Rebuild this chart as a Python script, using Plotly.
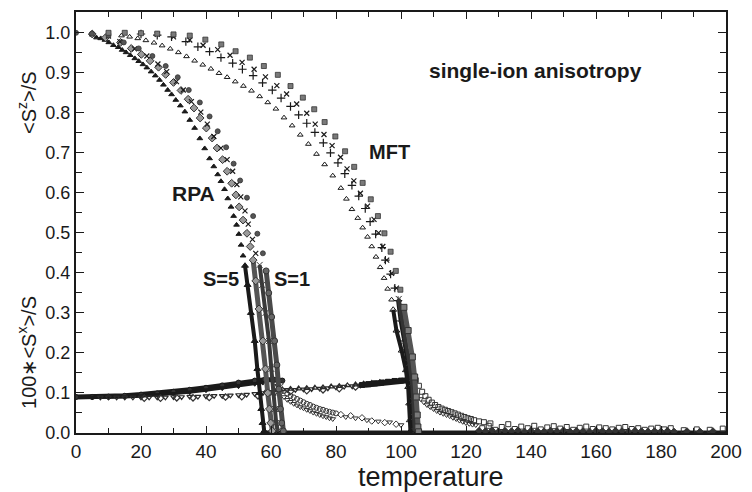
import plotly.graph_objects as go

# ---------------- data ----------------
# <S^z>/S, RPA branch
rpa_tri_T = [5, 6.3, 7.6, 8.9, 10.1, 11.5, 13.0, 14.2, 15.4, 16.7, 18.1, 19.3, 20.6, 21.8, 23.1, 24.4, 25.7, 26.9,
             28.2, 29.4, 30.7, 32.1, 33.5, 35.0, 36.5, 38.1, 39.6, 41.1, 42.4, 43.6, 44.6, 45.7, 46.7, 47.7, 48.5,
             49.4, 50.1, 50.8, 51.4]
rpa_tri_m = [0.995, 0.988, 0.986, 0.982, 0.976, 0.969, 0.964, 0.957, 0.951, 0.944, 0.936, 0.929, 0.921, 0.913, 0.903,
             0.893, 0.882, 0.870, 0.857, 0.846, 0.832, 0.818, 0.803, 0.782, 0.762, 0.736, 0.711, 0.686, 0.666, 0.646,
             0.629, 0.609, 0.586, 0.565, 0.542, 0.520, 0.497, 0.470, 0.443]
rpa_dia_T = [5, 9.1, 13.7, 17.0, 20.1, 22.8, 25.4, 27.6, 30.0, 32.3, 34.5, 36.3, 38.2, 40.1, 41.9, 43.4, 45.1, 46.5,
             47.9, 49.2, 50.2, 51.4, 52.6, 53.6]
rpa_dia_m = [0.997, 0.988, 0.976, 0.961, 0.946, 0.930, 0.914, 0.896, 0.876, 0.856, 0.834, 0.812, 0.787, 0.762, 0.737,
             0.712, 0.683, 0.654, 0.624, 0.595, 0.565, 0.532, 0.499, 0.466]
rpa_x_T = [10, 13.5, 18.0, 21.8, 25.2, 27.9, 30.9, 33.0, 35.5, 38.4, 40.4, 42.4, 44.6, 46.5, 48.2, 49.5, 50.7, 52.0,
           53.0, 54.3, 55.3]
rpa_x_m = [0.992, 0.978, 0.960, 0.942, 0.922, 0.903, 0.878, 0.857, 0.828, 0.802, 0.772, 0.741, 0.712, 0.683, 0.654,
           0.621, 0.590, 0.555, 0.522, 0.484, 0.449]
rpa_cir_T = [0, 4.9, 10, 14.7, 19.3, 23.5, 27.6, 31.3, 34.7, 38.1, 41.1, 43.6, 46.2, 48.5, 50.5, 52.6, 54.5, 55.8, 57.5]
rpa_cir_m = [1.0, 0.998, 0.993, 0.976, 0.961, 0.942, 0.917, 0.889, 0.857, 0.826, 0.791, 0.754, 0.714, 0.673, 0.631,
             0.588, 0.542, 0.498, 0.449]

# dense sampling near the RPA transition temperatures
rpa_tri_Tc_T = [52.0, 52.8, 53.8, 55.0, 55.8, 56.5, 57.0, 57.4, 57.9]
rpa_tri_Tc_m = [0.418, 0.370, 0.300, 0.230, 0.160, 0.100, 0.060, 0.025, 0.005]
rpa_dia_Tc_T = [54.5, 55.3, 56.3, 57.5, 58.3, 59.0, 59.5, 59.9, 60.4]
rpa_dia_Tc_m = [0.432, 0.380, 0.310, 0.230, 0.160, 0.100, 0.060, 0.025, 0.005]
rpa_x_Tc_T = [56.5, 57.3, 58.3, 59.4, 60.1, 60.7, 61.2, 61.6, 62.1]
rpa_x_Tc_m = [0.420, 0.370, 0.300, 0.230, 0.160, 0.100, 0.060, 0.025, 0.005]
rpa_cir_Tc_T = [58.5, 59.3, 60.2, 61.1, 61.8, 62.4, 62.9, 63.3, 63.8]
rpa_cir_Tc_m = [0.405, 0.350, 0.290, 0.230, 0.170, 0.110, 0.060, 0.025, 0.005]

# <S^z>/S, MFT branch
mft_tri_T = [14, 16.5, 19, 21.5, 24, 26.5, 29, 31.5, 34, 36.5, 39, 41.5, 44, 46.5, 49, 51.5, 54, 56.5, 59, 61.5,
             64, 66.5, 69, 71.5, 74, 76.5, 79, 81.5, 83.2, 84.9, 86.7, 88.2, 89.7, 91.0, 92.3, 93.6, 94.8, 95.9, 97.1]
mft_tri_m = [0.993, 0.990, 0.986, 0.981, 0.975, 0.968, 0.960, 0.951, 0.941, 0.930, 0.920, 0.910, 0.899, 0.889, 0.878,
             0.867, 0.855, 0.841, 0.826, 0.810, 0.788, 0.768, 0.745, 0.722, 0.697, 0.671, 0.643, 0.612, 0.585, 0.559,
             0.537, 0.513, 0.490, 0.466, 0.440, 0.414, 0.387, 0.360, 0.333]
mft_plus_T = [20, 25, 29.4, 33.8, 37.5, 41.1, 44.6, 48.2, 51.2, 54.5, 57.4, 60.4, 63.1, 66.0, 68.5, 71.0, 73.5, 76.1,
              78.3, 80.6, 82.7, 84.9, 87.0, 89.0, 90.5, 92.2, 94.1, 95.2, 96.8, 98.1]
mft_plus_m = [0.997, 0.994, 0.990, 0.978, 0.965, 0.953, 0.938, 0.924, 0.909, 0.893, 0.875, 0.857, 0.837, 0.816, 0.795,
              0.774, 0.751, 0.725, 0.700, 0.675, 0.648, 0.619, 0.592, 0.561, 0.528, 0.497, 0.463, 0.432, 0.397, 0.362]
mft_x_T = [25, 30, 35, 39.1, 43.6, 47.4, 51.1, 54.8, 58.3, 61.8, 64.8, 67.9, 71.0, 73.6, 76.3, 78.8, 81.4, 83.4, 85.5,
           87.5, 89.7, 91.7, 93.1, 94.4, 95.6, 97.1, 98.6]
mft_x_m = [0.996, 0.990, 0.982, 0.969, 0.958, 0.944, 0.926, 0.909, 0.890, 0.868, 0.847, 0.822, 0.799, 0.772, 0.746,
           0.718, 0.689, 0.660, 0.630, 0.599, 0.567, 0.534, 0.500, 0.466, 0.432, 0.399, 0.362]
mft_sq_T = [10, 15, 20, 25, 30, 35, 39.8, 44.7, 49.1, 53.5, 57.8, 62.1, 66.0, 69.8, 73.3, 76.5, 79.8, 82.8, 85.6, 88.2,
            90.7, 92.9, 94.9, 96.8, 98.4, 99.8]
mft_sq_m = [1.0, 1.0, 0.999, 0.998, 0.996, 0.993, 0.983, 0.971, 0.954, 0.938, 0.917, 0.895, 0.867, 0.838, 0.809, 0.777,
            0.741, 0.704, 0.665, 0.625, 0.584, 0.542, 0.499, 0.453, 0.405, 0.358]

# dense sampling near the MFT transition temperatures
mft_tri_Tc_T = [97.6, 98.6, 100.2, 101.5, 102.2, 102.5, 102.7, 102.9]
mft_tri_Tc_m = [0.308, 0.256, 0.206, 0.157, 0.115, 0.074, 0.032, 0.005]
mft_plus_Tc_T = [99.1, 99.9, 101.0, 102.2, 103.0, 103.4, 103.6, 103.8]
mft_plus_Tc_m = [0.331, 0.280, 0.230, 0.175, 0.125, 0.080, 0.040, 0.005]
mft_x_Tc_T = [99.3, 100.2, 101.4, 102.6, 103.4, 103.8, 104.0, 104.2]
mft_x_Tc_m = [0.335, 0.285, 0.230, 0.175, 0.125, 0.080, 0.040, 0.005]
mft_sq_Tc_T = [100.9, 102.2, 103.5, 104.2, 104.7, 105.0, 105.2, 105.4]
mft_sq_Tc_m = [0.314, 0.256, 0.190, 0.140, 0.090, 0.045, 0.015, 0.003]

# zero magnetisation above the transitions
zero_T = [58, 70, 80, 90, 100, 110, 120, 130, 140, 150, 160, 170, 180, 190, 200]
zero_m = [0.0, 0.0, 0.0, 0.0, 0.0, 0.0, 0.0, 0.0, 0.0, 0.0, 0.0, 0.0, 0.0, 0.0, 0.0]

# 100*<S^x>/S, RPA branch
rpa_sx1_T = [0, 5, 10, 15, 20, 25, 30, 35, 40, 45, 50, 55, 58, 61, 63.5]
rpa_sx1_v = [0.090, 0.090, 0.091, 0.093, 0.096, 0.099, 0.103, 0.108, 0.113, 0.119, 0.126, 0.131, 0.133, 0.133, 0.131]
rpa_sx5_T = [5, 10, 15, 20, 25, 30, 35, 40, 45, 50, 55, 57.5]
rpa_sx5_v = [0.089, 0.089, 0.090, 0.092, 0.095, 0.098, 0.102, 0.107, 0.112, 0.117, 0.123, 0.126]
rpa_dec_a_T = [63, 64, 65, 66, 67, 68, 69, 70, 71, 72, 73, 74, 75, 76, 77, 78, 79, 80]
rpa_dec_a_v = [0.125, 0.105, 0.098, 0.093, 0.089, 0.085, 0.081, 0.077, 0.073, 0.070, 0.066, 0.063, 0.060, 0.058,
               0.055, 0.053, 0.051, 0.049]
rpa_dec_b_T = [62, 63, 64, 65, 66, 67, 68, 69, 70, 71, 72, 73, 74, 75, 76, 77, 78, 79]
rpa_dec_b_v = [0.118, 0.100, 0.090, 0.083, 0.078, 0.073, 0.069, 0.065, 0.062, 0.058, 0.055, 0.051, 0.048, 0.045,
               0.042, 0.040, 0.037, 0.035]
rpa_tail_a_T = [81.5, 84.5, 88, 91, 95, 98.5]
rpa_tail_a_v = [0.046, 0.043, 0.038, 0.030, 0.026, 0.022]
rpa_tail_b_T = [83, 86, 89.5, 93, 96.5, 100]
rpa_tail_b_v = [0.040, 0.037, 0.032, 0.029, 0.027, 0.020]

# 100*<S^x>/S, MFT branch
mft_sx_a_T = [7.5, 10, 12.5, 15, 17.5, 20, 22.5, 25, 27.5, 30, 32.5, 35, 37.5, 40, 42.5, 45, 47.5, 50, 52.5, 55,
              57.5, 60, 62.5, 65, 67.5, 70, 72.5, 75, 77.5, 80, 82.5, 85, 87.5]
mft_sx_a_v = [0.089, 0.089, 0.089, 0.089, 0.089, 0.089, 0.089, 0.089, 0.089, 0.090, 0.090, 0.091, 0.091, 0.092, 0.093,
              0.093, 0.094, 0.095, 0.096, 0.098, 0.100, 0.103, 0.106, 0.108, 0.108, 0.109, 0.110, 0.111, 0.112, 0.114,
              0.116, 0.117, 0.119]
mft_sx_b_T = [21, 26, 31, 36, 41, 46, 51, 56, 61, 66, 71, 76, 81, 86]
mft_sx_b_v = [0.087, 0.087, 0.088, 0.088, 0.089, 0.090, 0.091, 0.093, 0.101, 0.104, 0.106, 0.108, 0.111, 0.115]
mft_sx_c_T = [58.5, 61, 63.5, 66, 68.5, 71, 73.5, 76, 78.5, 81, 83.5, 86, 88.5, 91, 93.5]
mft_sx_c_v = [0.104, 0.107, 0.109, 0.110, 0.111, 0.112, 0.113, 0.114, 0.116, 0.117, 0.119, 0.121, 0.123, 0.125, 0.127]
mft_sx_Tc_T = [88, 90, 92, 94, 96, 98, 100, 102, 103.5, 104.5]
mft_sx_Tc_v = [0.120, 0.122, 0.124, 0.126, 0.128, 0.130, 0.131, 0.132, 0.133, 0.132]
mft_dec_a_T = [105.5, 106.5, 107.5, 108.5, 109.5, 110.5, 111.5, 112.5, 113.5, 114.5, 115.5, 116.5, 117.5, 118.5,
               119.5, 120.5, 121.5, 122.5, 124, 125.5, 127.5]
mft_dec_a_v = [0.118, 0.103, 0.092, 0.083, 0.076, 0.070, 0.065, 0.061, 0.058, 0.055, 0.052, 0.049, 0.046, 0.043,
               0.040, 0.037, 0.035, 0.032, 0.029, 0.027, 0.024]
mft_dec_b_T = [106, 107, 108, 109, 110, 111, 112, 113, 114, 115, 116, 117, 118, 119, 120, 121, 122, 123]
mft_dec_b_v = [0.085, 0.077, 0.070, 0.065, 0.060, 0.055, 0.051, 0.048, 0.045, 0.042, 0.038, 0.035, 0.031, 0.028,
               0.025, 0.023, 0.021, 0.020]
noise_a_T = [125, 127, 129, 131, 133, 135, 137, 139, 141, 143, 145, 147, 149, 151, 153, 155, 157, 159, 161, 163, 165,
             167, 169, 171, 173, 175, 177, 179, 181, 183, 187, 191, 195, 199]
noise_a_v = [0.012, 0.018, 0.008, 0.015, 0.022, 0.010, 0.016, 0.012, 0.018, 0.009, 0.014, 0.017, 0.011, 0.015, 0.008,
             0.013, 0.016, 0.010, 0.014, 0.012, 0.009, 0.013, 0.015, 0.010, 0.012, 0.008, 0.011, 0.013, 0.009, 0.012,
             0.007, 0.009, 0.008, 0.011]
noise_b_T = [124, 126, 128, 130, 132, 134, 136, 138, 140, 142, 144, 146, 148, 150, 152, 154, 156, 158, 160, 162, 164,
             166, 168, 170, 172, 174, 176, 178, 180, 182, 184, 188, 192, 196]
noise_b_v = [0.006, 0.005, 0.007, 0.004, 0.006, 0.005, 0.007, 0.004, 0.006, 0.005, 0.004, 0.006, 0.005, 0.007, 0.004,
             0.006, 0.005, 0.004, 0.006, 0.005, 0.004, 0.006, 0.005, 0.004, 0.006, 0.005, 0.004, 0.005, 0.004, 0.006,
             0.004, 0.005, 0.004, 0.005]

# text
x_title = "temperature"
y_title_top = "&lt;S<sup>z</sup>&gt;/S"
y_title_bottom = "100∗&lt;S<sup>x</sup>&gt;/S"
x_ticks = [0, 20, 40, 60, 80, 100, 120, 140, 160, 180, 200]
y_ticks = [0.0, 0.1, 0.2, 0.3, 0.4, 0.5, 0.6, 0.7, 0.8, 0.9, 1.0]

# ---------------- figure ----------------
FONT = "Liberation Sans, Arial, Helvetica, sans-serif"
INK = "#1a1a1a"
fig = go.Figure()


def pts(T, v, symbol, size, color, lcolor=None, lwidth=1.0):
    fig.add_trace(go.Scatter(
        x=T, y=v, mode="markers", showlegend=False, hoverinfo="skip",
        marker=dict(symbol=symbol, size=size, color=color,
                    line=dict(color=lcolor if lcolor else color, width=lwidth))))


def dense(T, v, color, width, symbol, size, mcolor, mline=None):
    fig.add_trace(go.Scatter(
        x=T, y=v, mode="lines+markers", showlegend=False, hoverinfo="skip",
        line=dict(color=color, width=width),
        marker=dict(symbol=symbol, size=size, color=mcolor,
                    line=dict(color=mline if mline else color, width=1))))


# zero line above Tc
fig.add_trace(go.Scatter(x=zero_T, y=zero_m, mode="lines", showlegend=False, hoverinfo="skip",
                         line=dict(color=INK, width=5)))

# S^x branches
dense(rpa_sx1_T, rpa_sx1_v, INK, 5, "circle", 5, "#333333")
dense(rpa_sx5_T, rpa_sx5_v, INK, 3, "triangle-down", 5, INK)
pts(mft_sx_a_T, mft_sx_a_v, "triangle-down-open", 5, "#2a2a2a", None, 1.2)
pts(mft_sx_b_T, mft_sx_b_v, "diamond-open", 5, "#333333", None, 1.2)
pts(mft_sx_c_T, mft_sx_c_v, "triangle-up-open", 5, "#2a2a2a", None, 1.2)
dense(mft_sx_Tc_T, mft_sx_Tc_v, INK, 6, "square", 5, INK)
pts(rpa_dec_a_T, rpa_dec_a_v, "circle-open", 5, "#333333")
pts(rpa_dec_b_T, rpa_dec_b_v, "triangle-down-open", 5, "#333333")
pts(rpa_tail_a_T, rpa_tail_a_v, "diamond-open", 5, "#333333")
pts(rpa_tail_b_T, rpa_tail_b_v, "triangle-down-open", 5, "#333333")
pts(mft_dec_a_T, mft_dec_a_v, "square-open", 5, "#333333")
pts(mft_dec_b_T, mft_dec_b_v, "triangle-down-open", 5, "#333333")
pts(noise_a_T, noise_a_v, "square-open", 5, "#333333")
pts(noise_b_T, noise_b_v, "diamond", 5, "#333333")

# S^z near Tc (dense)
dense(rpa_tri_Tc_T, rpa_tri_Tc_m, INK, 4, "triangle-up", 6, INK)
dense(rpa_dia_Tc_T, rpa_dia_Tc_m, "#555555", 5, "diamond", 6, "#9a9a9a", "#333333")
dense(rpa_x_Tc_T, rpa_x_Tc_m, "#3a3a3a", 4, "x-thin", 6, INK)
dense(rpa_cir_Tc_T, rpa_cir_Tc_m, "#4a4a4a", 5, "circle", 6, "#666666", "#333333")
dense(mft_tri_Tc_T, mft_tri_Tc_m, INK, 4, "triangle-up-open", 6, INK)
dense(mft_plus_Tc_T, mft_plus_Tc_m, INK, 4, "cross-thin", 6, INK)
dense(mft_x_Tc_T, mft_x_Tc_m, "#333333", 4, "x-thin", 6, INK)
dense(mft_sq_Tc_T, mft_sq_Tc_m, "#555555", 5, "square", 6, "#7a7a7a", "#333333")

# S^z sparse points
pts(rpa_tri_T, rpa_tri_m, "triangle-up", 5, INK)
pts(rpa_dia_T, rpa_dia_m, "diamond", 6, "#9a9a9a", "#333333", 1)
pts(rpa_x_T, rpa_x_m, "x-thin", 5, INK, INK, 1.2)
pts(rpa_cir_T, rpa_cir_m, "circle", 5, "#555555", "#333333", 0.8)
pts(mft_tri_T, mft_tri_m, "triangle-up-open", 5, INK, INK, 1)
pts(mft_plus_T, mft_plus_m, "cross-thin", 6, INK, INK, 1.2)
pts(mft_x_T, mft_x_m, "x-thin", 5, INK, INK, 1.2)
pts(mft_sq_T, mft_sq_m, "square", 5, "#7a7a7a", "#333333", 0.8)

# labels inside the plot
ann = [
    dict(text="single-ion anisotropy", x=141.5, y=0.905, size=21),
    dict(text="MFT", x=96.5, y=0.703, size=20),
    dict(text="RPA", x=36.2, y=0.598, size=21),
    dict(text="S=5", x=44.6, y=0.384, size=20),
    dict(text="S=1", x=66.4, y=0.384, size=20),
]
for a in ann:
    fig.add_annotation(x=a["x"], y=a["y"], xref="x", yref="y", text="<b>%s</b>" % a["text"],
                       showarrow=False, xanchor="center", yanchor="middle",
                       font=dict(family=FONT, size=a["size"], color=INK))

fig.add_annotation(x=-0.076, y=0.826, xref="paper", yref="y", text=y_title_top, textangle=-90,
                   showarrow=False, xanchor="center", yanchor="middle",
                   font=dict(family=FONT, size=20, color=INK))
fig.add_annotation(x=-0.076, y=0.2015, xref="paper", yref="y", text=y_title_bottom, textangle=-90,
                   showarrow=False, xanchor="center", yanchor="middle",
                   font=dict(family=FONT, size=20, color=INK))
fig.add_annotation(x=0.5464, y=-0.104, xref="paper", yref="paper", text=x_title,
                   showarrow=False, xanchor="center", yanchor="middle",
                   font=dict(family=FONT, size=27, color=INK))

fig.update_layout(
    width=752, height=492,
    margin=dict(l=76, r=19, t=10, b=59),
    paper_bgcolor="white", plot_bgcolor="white",
    font=dict(family=FONT, color=INK),
    xaxis=dict(range=[0, 200], tickvals=x_ticks, ticktext=[str(t) for t in x_ticks],
               ticks="inside", ticklen=7, tickwidth=1.3, tickcolor=INK,
               minor=dict(dtick=10, tick0=0, ticks="inside", ticklen=5, tickwidth=1.2, tickcolor=INK),
               showline=True, linewidth=2.2, linecolor=INK, mirror="allticks",
               showgrid=False, zeroline=False, tickfont=dict(size=19, color=INK)),
    yaxis=dict(range=[0, 1.052], tickvals=y_ticks, ticktext=["%.1f" % t for t in y_ticks],
               ticks="inside", ticklen=8, tickwidth=1.3, tickcolor=INK,
               minor=dict(dtick=0.05, tick0=0, ticks="inside", ticklen=6, tickwidth=1.2, tickcolor=INK),
               showline=True, linewidth=2.2, linecolor=INK, mirror="allticks",
               showgrid=False, zeroline=False, tickfont=dict(size=18, color=INK)),
)

fig.write_html("out.html", config={"displayModeBar": False},
               post_script="document.body.style.margin='0px';")
